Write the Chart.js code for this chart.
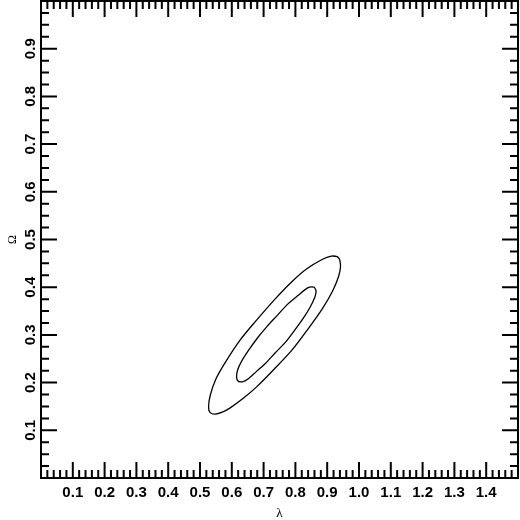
<!DOCTYPE html>
<html>
<head>
<meta charset="utf-8">
<script src="https://cdn.jsdelivr.net/npm/chart.js@4/dist/chart.umd.min.js"></script>
<style>
  html, body { margin: 0; padding: 0; background: #fff; }
  #wrap { width: 520px; height: 520px; }
</style>
</head>
<body>
<div id="wrap"><canvas id="myChart"></canvas></div>
<script>
// tick labels
const xTicks = [0.1, 0.2, 0.3, 0.4, 0.5, 0.6, 0.7, 0.8, 0.9, 1.0, 1.1, 1.2, 1.3, 1.4];
const yTicks = [0.1, 0.2, 0.3, 0.4, 0.5, 0.6, 0.7, 0.8, 0.9];

// outer contour (lambda, Omega)
const outerLambda = [0.939, 0.931, 0.913, 0.884, 0.837, 0.788, 0.733, 0.678, 0.626, 0.582, 0.551, 0.532, 0.527,
  0.532, 0.548, 0.570, 0.595, 0.636, 0.678, 0.733, 0.789, 0.837, 0.884, 0.917, 0.936, 0.942, 0.939];
const outerOmega = [0.459, 0.464, 0.465, 0.458, 0.439, 0.411, 0.373, 0.331, 0.289, 0.245, 0.209, 0.173, 0.148,
  0.137, 0.134, 0.138, 0.147, 0.167, 0.191, 0.228, 0.268, 0.310, 0.354, 0.392, 0.423, 0.444, 0.459];

// inner contour
const innerLambda = [0.864, 0.858, 0.840, 0.809, 0.775, 0.743, 0.711, 0.680, 0.653, 0.631, 0.618, 0.615, 0.620,
  0.636, 0.652, 0.677, 0.704, 0.736, 0.769, 0.799, 0.826, 0.847, 0.861, 0.865, 0.864];
const innerOmega = [0.395, 0.400, 0.399, 0.383, 0.364, 0.341, 0.318, 0.293, 0.268, 0.245, 0.226, 0.211, 0.203,
  0.202, 0.208, 0.223, 0.239, 0.262, 0.285, 0.311, 0.336, 0.359, 0.379, 0.390, 0.395];

const toPoints = (xs, ys) => xs.map((x, i) => ({ x: x, y: ys[i] }));

// inward ticks on all four sides + frame
const frameTicks = {
  id: "frameTicks",
  afterDraw(chart) {
    const { ctx, chartArea: a, scales } = chart;
    const x = scales.x;
    const y = scales.y;
    ctx.save();
    ctx.strokeStyle = "#000";
    ctx.lineWidth = 2;
    ctx.beginPath();
    for (let i = 1; i < 75; i++) {
      const px = x.getPixelForValue(i * 0.02);
      const len = i % 5 === 0 ? 16 : 8;
      ctx.moveTo(px, a.bottom);
      ctx.lineTo(px, a.bottom - len);
      ctx.moveTo(px, a.top);
      ctx.lineTo(px, a.top + len);
    }
    for (let i = 1; i < 40; i++) {
      const py = y.getPixelForValue(i * 0.025);
      const len = i % 4 === 0 ? 16 : 8;
      ctx.moveTo(a.left, py);
      ctx.lineTo(a.left + len, py);
      ctx.moveTo(a.right, py);
      ctx.lineTo(a.right - len, py);
    }
    ctx.stroke();
    ctx.strokeRect(a.left, a.top, a.right - a.left, a.bottom - a.top);
    ctx.restore();
  },
};

const tickFont = { family: "'Liberation Sans', Arial, sans-serif", size: 15, weight: "bold" };

const chart = new Chart("myChart", {
  type: "scatter",
  data: {
    datasets: [
      {
        data: toPoints(outerLambda, outerOmega),
        showLine: true,
        borderColor: "#000",
        borderWidth: 1.3,
        pointRadius: 0,
        tension: 0.3,
        fill: false,
      },
      {
        data: toPoints(innerLambda, innerOmega),
        showLine: true,
        borderColor: "#000",
        borderWidth: 1.3,
        pointRadius: 0,
        tension: 0.3,
        fill: false,
      },
    ],
  },
  options: {
    responsive: true,
    maintainAspectRatio: false,
    animation: false,
    layout: { padding: { top: 1, right: 2, left: 0, bottom: 0 } },
    plugins: {
      legend: { display: false },
      tooltip: { enabled: false },
    },
    scales: {
      x: {
        type: "linear",
        min: 0,
        max: 1.5,
        grid: { display: false, drawTicks: false },
        border: { display: false },
        afterBuildTicks: (s) => {
          s.ticks = xTicks.map((v) => ({ value: v }));
        },
        afterFit: (s) => {
          s.height = 42;
          s.paddingLeft = 0;
          s.paddingRight = 0;
        },
        ticks: {
          color: "#000",
          font: tickFont,
          padding: 6,
          maxRotation: 0,
          autoSkip: false,
          callback: (v) => v.toFixed(1),
        },
        title: {
          display: true,
          text: "λ",
          color: "#000",
          font: { family: "'Liberation Serif', serif", size: 13, lineHeight: 1 },
          padding: { top: 0, bottom: 0 },
        },
      },
      y: {
        type: "linear",
        min: 0,
        max: 1,
        grid: { display: false, drawTicks: false },
        border: { display: false },
        afterBuildTicks: (s) => {
          s.ticks = yTicks.map((v) => ({ value: v }));
        },
        afterFit: (s) => {
          s.width = 41;
          s.paddingTop = 0;
          s.paddingBottom = 0;
        },
        ticks: {
          color: "#000",
          font: tickFont,
          padding: 0,
          minRotation: 90,
          maxRotation: 90,
          crossAlign: "center",
          autoSkip: false,
          callback: (v) => v.toFixed(1),
        },
        title: {
          display: true,
          text: "Ω",
          color: "#000",
          font: { family: "'Liberation Serif', serif", size: 12, lineHeight: 1 },
          padding: { top: 7, bottom: 0 },
        },
      },
    },
  },
  plugins: [frameTicks],
});
</script>
</body>
</html>
